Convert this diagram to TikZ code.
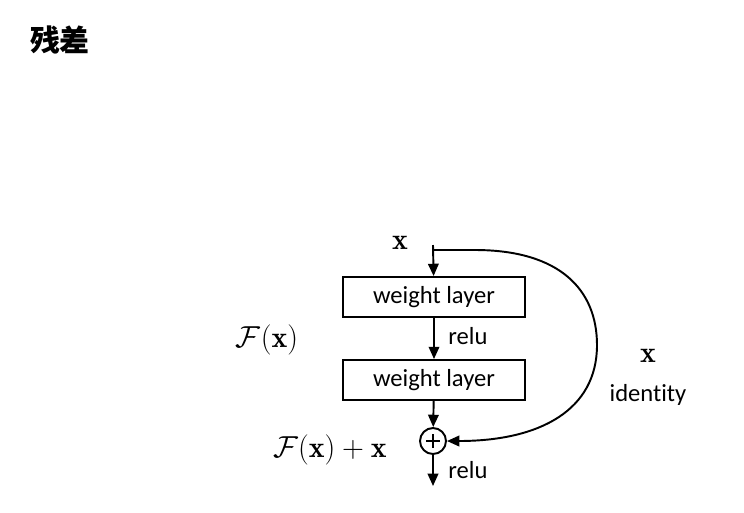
\documentclass[tikz,border=0pt]{standalone}
\usepackage{amsmath,amssymb}
\usepackage{fontspec}
\newfontfamily\labelfont[Ligatures=NoCommon]{Carlito}
\newfontfamily\cjkfont{Noto Sans CJK SC}
\usepackage{tikz}
\usetikzlibrary{arrows.meta,positioning,calc}

\begin{document}
\begin{tikzpicture}[
    x=0.02cm, y=-0.02cm,
    box/.style={draw, line width=1.1pt, minimum width=3.64cm, minimum height=0.8cm, inner sep=0pt, font=\labelfont\fontsize{14}{16}\selectfont},
    lbl/.style={font=\labelfont\fontsize{14}{16}\selectfont, inner sep=1pt},
    mth/.style={font=\fontsize{17}{20}\selectfont, inner sep=0pt},
    arr/.style={-{Triangle[length=7pt,width=6pt]}, line width=1.1pt}
]
\useasboundingbox (0,0) rectangle (744,512);

\node[font=\cjkfont\bfseries\fontsize{17}{20}\selectfont] (title) at (60,40) {残差};

\coordinate (in) at (433,245);
\node[mth] (xin) at (400,243) {$\mathbf{x}$};
\node[box] (w1) at (434,297) {weight layer};
\node[box] (w2) at (434,380) {weight layer};
\node[draw, circle, line width=1.1pt, minimum size=0.52cm, inner sep=0pt] (plus) at (433,441) {};
\draw[line width=1.1pt] ($(plus)+(0,-7)$) -- ($(plus)+(0,7)$) ($(plus)+(-7,0)$) -- ($(plus)+(7,0)$);
\coordinate (out) at (433,486);

\node[mth] (fx) at (267,340) {$\mathcal{F}(\mathbf{x})$};
\node[mth] (fxx) at (330,450) {$\mathcal{F}(\mathbf{x})+\mathbf{x}$};
\node[lbl] (relu1) at (468,336) {relu};
\node[lbl] (relu2) at (468,470) {relu};
\node[mth] (xid) at (648,356) {$\mathbf{x}$};
\node[lbl] (ident) at (648,395) {identity};

\draw[arr] (in) -- (w1);
\draw[arr] (w1) -- (w2);
\draw[arr] (w2) -- (plus);
\draw[arr] (plus) -- (out);

% identity shortcut
\coordinate (sc) at (433,250);
\draw[arr] (sc) -- (475,250) .. controls (560,250) and (597,290) .. (597,345)
    .. controls (597,410) and (540,441) .. (plus.east);
\end{tikzpicture}
\end{document}
